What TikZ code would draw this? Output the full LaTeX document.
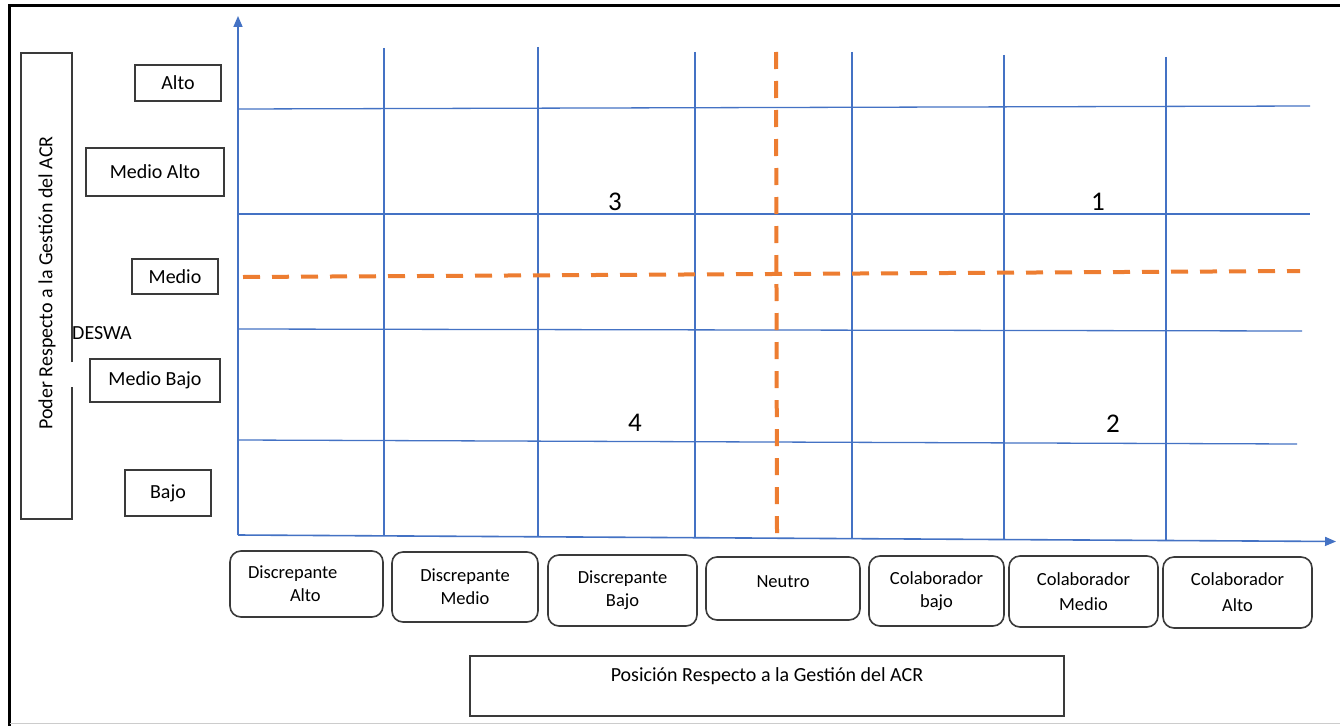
\documentclass[tikz,border=0pt]{standalone}
\usepackage{fontspec}
\setmainfont{Carlito}
\usetikzlibrary{arrows.meta}
\definecolor{gridblue}{HTML}{4472C4}
\definecolor{accorange}{HTML}{ED7D31}
\definecolor{boxgray}{HTML}{3A3A3A}
\tikzset{
  gridline/.style={draw=gridblue, line width=1.3pt},
  axisline/.style={draw=gridblue, line width=1.6pt, -{Triangle[length=11pt,width=9pt]}},
  orangedash/.style={draw=accorange, line width=4pt, dash pattern=on 17pt off 12pt},
  levelbox/.style={draw=boxgray, line width=1.6pt, inner sep=0pt, font=\fontsize{20}{24}\selectfont},
  posbox/.style={draw=boxgray, line width=1.6pt, rounded corners=11pt, inner sep=0pt, align=center, font=\fontsize{18.5}{23}\selectfont},
  plaintext/.style={inner sep=0pt, font=\fontsize{20}{24}\selectfont},
  quadnum/.style={inner sep=0pt, font=\fontsize{27}{30}\selectfont},
}
\begin{document}
\begin{tikzpicture}[x=1pt,y=-1pt]
\useasboundingbox (0,0) rectangle (1340,725);
\fill[white] (0,0) rectangle (1340,725);
% outer frame
\draw[black, line width=3pt] (9.5,760) -- (9.5,5.5) -- (1360,5.5);
\draw[gray!40, line width=1pt] (9.5,723.5) -- (1360,723.5);

% horizontal grid lines
\draw[gridline] (238,109) -- (1310,106);
\draw[gridline] (238,214) -- (1310,214);
\draw[gridline] (238,329) -- (1302,331);
\draw[gridline] (238,440) -- (1297,444);
% vertical grid lines
\coordinate (v1t) at (384,48);  \coordinate (v1b) at (384,535.8);
\coordinate (v2t) at (538,47);  \coordinate (v2b) at (538,536.6);
\coordinate (v3t) at (695,52);  \coordinate (v3b) at (695,537.6);
\coordinate (v4t) at (852,52);  \coordinate (v4b) at (852,538.6);
\coordinate (v5t) at (1004,55); \coordinate (v5b) at (1004,539.6);
\coordinate (v6t) at (1166,57); \coordinate (v6b) at (1166,540.5);
\foreach \i in {1,...,6} {\draw[gridline] (v\i t) -- (v\i b);}

% axes
\coordinate (origin) at (238,535);
\coordinate (ytip) at (238,16);
\coordinate (xtip) at (1336,541.5);
\draw[axisline] (origin) -- (ytip);
\draw[axisline] (origin) -- (xtip);

% orange dashed dividers
\draw[orangedash] (243,277) -- (1300,271);
\draw[orangedash] (776,52) -- (777,535);

% quadrant numbers
\node[quadnum] (q3) at (615,202) {3};
\node[quadnum] (q1) at (1098,202) {1};
\node[quadnum] (q4) at (635,423) {4};
\node[quadnum] (q2) at (1113,424) {2};

% vertical axis title box (with gap on right side)
\draw[boxgray, line width=1.6pt] (72,362) -- (72,53) -- (21,53) -- (21,519) -- (72,519) -- (72,387);
\node[plaintext, rotate=90] (ytitle) at (47,283) {Poder Respecto a la Gestión del ACR};
\node[plaintext, anchor=west] (deswa) at (72,333) {DESWA};

% level boxes
\node[levelbox, minimum width=86pt, minimum height=36pt] (alto) at (178,83) {Alto};
\node[levelbox, minimum width=138pt, minimum height=48pt] (malto) at (155,172) {Medio Alto};
\node[levelbox, minimum width=86pt, minimum height=35pt] (medio) at (175,276.5) {Medio};
\node[levelbox, minimum width=130pt, minimum height=43pt] (mbajo) at (155,380.5) {Medio Bajo};
\node[levelbox, minimum width=86pt, minimum height=46pt] (bajo) at (168,493) {Bajo};

% position boxes
\node[posbox, minimum width=153pt, minimum height=66pt, text width=117pt, inner xsep=18pt, align=left] (dalto) at (306.5,584) {Discrepante\\\hspace*{42pt}Alto};
\node[posbox, minimum width=146pt, minimum height=70pt] (dmedio) at (465,587) {Discrepante\\Medio};
\node[posbox, minimum width=149pt, minimum height=71pt] (dbajo) at (622.5,590.5) {Discrepante\\Bajo};
\node[posbox, minimum width=154pt, minimum height=63pt] (neutro) at (783,588.5) {};
\node[inner sep=0pt, font=\fontsize{18.5}{23}\selectfont] (neutrot) at (783,582) {Neutro};
\node[posbox, minimum width=135pt, minimum height=70pt] (cbajo) at (936.5,591) {Colaborador\\bajo};
\node[posbox, minimum width=149pt, minimum height=71pt, font=\fontsize{18.5}{25}\selectfont] (cmedio) at (1083.5,591.5) {Colaborador\\Medio};
\node[posbox, minimum width=149pt, minimum height=71pt, font=\fontsize{18.5}{26}\selectfont] (calto) at (1237.5,592.5) {Colaborador\\Alto};

% x axis title
\node[draw=boxgray, line width=1.6pt, minimum width=594pt, minimum height=60pt, inner sep=0pt] (xtitle) at (767,686) {};
\node[plaintext] (xtitlet) at (767,676) {Posición Respecto a la Gestión del ACR};
\end{tikzpicture}
\end{document}
